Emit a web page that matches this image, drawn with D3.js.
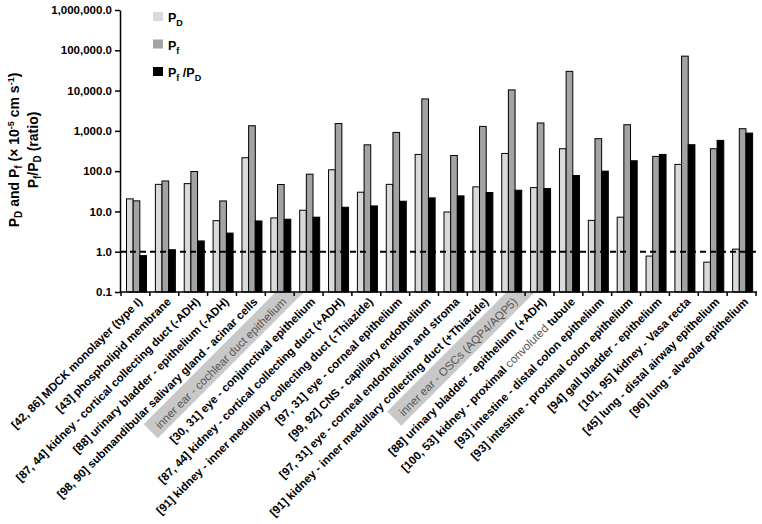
<!DOCTYPE html>
<html>
<head>
<meta charset="utf-8">
<script src="https://cdn.jsdelivr.net/npm/d3@7"></script>
<style>
	body { margin: 0; background: #fff; }
	svg { display: block; font-family: Arial, "Liberation Sans", sans-serif; }
</style>
</head>
<body>
<svg id="chart" width="762" height="524"></svg>
<script>
// categories (x axis)
var categories = [
	'[42, 86] MDCK monolayer (type I)',
	'[43] phospholipid membrane',
	'[87, 44] kidney - cortical collecting duct (-ADH)',
	'[88] urinary bladder - epithelium (-ADH)',
	'[98, 90] submandibular salivary gland - acinar cells',
	'inner ear - cochlear duct epithelium',
	'[30, 31] eye - conjunctival epithelium',
	'[87, 44] kidney - cortical collecting duct (+ADH)',
	'[91] kidney - inner medullary collecting duct (-Thiazide)',
	'[97, 31] eye - corneal epithelium',
	'[99, 92] CNS - capillary endothelium',
	'[97, 31] eye - corneal endothelium and stroma',
	'[91] kidney - inner medullary collecting duct (+Thiazide)',
	'inner ear - OSCs (AQP4/AQP5)',
	'[88] urinary bladder - epithelium (+ADH)',
	'[100, 53] kidney - proximal convoluted tubule',
	'[93] intestine - distal colon epithelium',
	'[93] intestine - proximal colon epithelium',
	'[94] gall bladder - epithelium',
	'[101, 95] kidney - Vasa recta',
	'[45] lung - distal airway epithelium',
	'[96] lung - alveolar epithelium'
];

// series values
var pD = [20.5, 47, 49, 5.9, 215, 6.9, 10.7, 108, 30, 47, 260, 9.7, 40.7, 275, 39, 360, 6.0, 7.2, 0.78, 147, 0.55, 1.16];
var pF = [18.3, 57, 98, 18.2, 1340, 46.6, 84, 1520, 450, 915, 6200, 245, 1290, 10400, 1570, 30000, 640, 1420, 232, 71600, 360, 1130];
var ratio = [0.8, 1.12, 1.85, 2.9, 5.8, 6.4, 7.2, 12.7, 13.7, 17.9, 21.7, 24.3, 29.5, 33.6, 37, 78, 100, 181, 260, 453, 580, 880];

// y tick values
var yTicks = [0.1, 1, 10, 100, 1000, 10000, 100000, 1000000];

(function(){
	var seriesKeys = ['pD', 'pF', 'ratio'];
	var seriesFill = { pD: '#dadada', pF: '#a3a3a3', ratio: '#000000' };

	var svg = d3.select('#chart');
	var plotLeft = 120, plotRight = 756, plotTop = 10, plotBottom = 292;

	var y = d3.scaleLog().domain([0.1, 1000000]).range([plotBottom, plotTop]);
	var x0 = d3.scaleBand().domain(categories).range([plotLeft + 1, plotRight]).padding(0);
	var x1 = d3.scaleBand().domain(seriesKeys).range([5.5, 25.5]).padding(0);

	// highlighted labels (grey box) and grey word
	var highlighted = ['inner ear - cochlear duct epithelium', 'inner ear - OSCs (AQP4/AQP5)'];
	var greyWord = 'convoluted';

	var labelX = function(c){ return x0(c) + x0.bandwidth()/2 + 5; };
	var labelY = plotBottom + 8;
	var rot = function(d){ return 'translate(' + labelX(d) + ',' + labelY + ') rotate(-45)'; };

	svg.append('clipPath').attr('id', 'belowAxis')
		.append('rect').attr('x', 0).attr('y', plotBottom + 1).attr('width', 762).attr('height', 300);
	var boxLayer = svg.append('g').attr('clip-path', 'url(#belowAxis)');

	// bars
	var rows = categories.map(function(c, i){
		return { cat: c, pD: pD[i], pF: pF[i], ratio: ratio[i] };
	});

	var groups = svg.append('g').selectAll('g')
		.data(rows)
		.enter()
		.append('g')
		.attr('transform', function(d){ return 'translate(' + x0(d.cat) + ',0)'; });

	groups.selectAll('rect')
		.data(function(d){ return seriesKeys.map(function(k){ return { key: k, value: d[k] }; }); })
		.enter()
		.append('rect')
		.attr('x', function(d){ return x1(d.key); })
		.attr('y', function(d){ return y(d.value); })
		.attr('width', x1.bandwidth())
		.attr('height', function(d){ return plotBottom - y(d.value); })
		.style('fill', function(d){ return seriesFill[d.key]; })
		.style('stroke', '#000')
		.style('stroke-width', 1);

	// dashed reference line at 1.0
	svg.append('line')
		.attr('x1', plotLeft).attr('x2', plotRight)
		.attr('y1', y(1)).attr('y2', y(1))
		.style('stroke', '#000')
		.style('stroke-width', 2)
		.style('stroke-dasharray', '6,4');

	// y axis
	var yAxis = svg.append('g')
		.attr('transform', 'translate(' + plotLeft + ',0)')
		.call(d3.axisLeft(y).tickValues(yTicks).tickFormat(d3.format(',.1f')).tickSize(5).tickSizeOuter(0));
	yAxis.select('.domain').style('stroke-width', 1.5);
	yAxis.selectAll('.tick line').style('stroke-width', 1.5);
	yAxis.selectAll('text')
		.attr('font-size', '11.5px')
		.attr('font-weight', 'bold')
		.attr('font-family', 'Arial, "Liberation Sans", sans-serif')
		.attr('fill', '#000');

	// x axis line and ticks at group boundaries
	svg.append('line')
		.attr('x1', plotLeft).attr('x2', plotRight + 1)
		.attr('y1', plotBottom).attr('y2', plotBottom)
		.style('stroke', '#000').style('stroke-width', 1.5);
	svg.append('g').selectAll('line')
		.data(categories.concat(['__end']))
		.enter()
		.append('line')
		.attr('x1', function(d){ return d === '__end' ? plotRight : x0(d); })
		.attr('x2', function(d){ return d === '__end' ? plotRight : x0(d); })
		.attr('y1', plotBottom).attr('y2', plotBottom + 4)
		.style('stroke', '#000').style('stroke-width', 1.5);

	// x labels
	var xLabels = svg.append('g').selectAll('text')
		.data(categories)
		.enter()
		.append('text')
		.attr('transform', rot)
		.attr('text-anchor', 'end')
		.attr('dy', '0.3em')
		.attr('font-size', '11.5px')
		.attr('font-weight', function(d){ return highlighted.indexOf(d) >= 0 ? 'normal' : 'bold'; })
		.attr('fill', function(d){ return highlighted.indexOf(d) >= 0 ? '#555' : '#000'; });

	xLabels.each(function(d){
		var t = d3.select(this);
		var k = d.indexOf(greyWord);
		if (k < 0){
			t.text(d);
			return;
		}
		t.append('tspan').text(d.slice(0, k));
		t.append('tspan').attr('font-weight', 'normal').attr('fill', '#555').text(greyWord);
		t.append('tspan').text(d.slice(k + greyWord.length));
	});

	// grey boxes behind highlighted labels, sized from the text
	xLabels.filter(function(d){ return highlighted.indexOf(d) >= 0; })
		.each(function(d){
			var len = this.getComputedTextLength();
			boxLayer.append('rect')
				.attr('transform', rot(d))
				.attr('x', -len - 8)
				.attr('y', -12)
				.attr('width', len + 40)
				.attr('height', 20)
				.style('fill', '#c8c8c8');
		});

	// y axis title
	var title = svg.append('text')
		.attr('transform', 'translate(19,150) rotate(-90)')
		.attr('text-anchor', 'middle')
		.attr('font-size', '14px')
		.attr('font-weight', 'bold');
	title.append('tspan').text('P');
	title.append('tspan').attr('font-size', '10px').attr('dy', 3).text('D');
	title.append('tspan').attr('dy', -3).text(' and P');
	title.append('tspan').attr('font-size', '10px').attr('dy', 3).text('f');
	title.append('tspan').attr('dy', -3).text(' (\u00d7 10');
	title.append('tspan').attr('font-size', '9px').attr('dy', -5).text('-5');
	title.append('tspan').attr('dy', 5).text(' cm s');
	title.append('tspan').attr('font-size', '9px').attr('dy', -5).text('-1');
	title.append('tspan').attr('dy', 5).text(')');

	var title2 = svg.append('text')
		.attr('transform', 'translate(38,150) rotate(-90)')
		.attr('text-anchor', 'middle')
		.attr('font-size', '14px')
		.attr('font-weight', 'bold');
	title2.append('tspan').text('P');
	title2.append('tspan').attr('font-size', '10px').attr('dy', 3).text('f');
	title2.append('tspan').attr('dy', -3).text('/P');
	title2.append('tspan').attr('font-size', '10px').attr('dy', 3).text('D');
	title2.append('tspan').attr('dy', -3).text(' (ratio)');

	// legend
	var legendItems = [
		{ key: 'pD', parts: [['P', 0], ['D', 1]] },
		{ key: 'pF', parts: [['P', 0], ['f', 1]] },
		{ key: 'ratio', parts: [['P', 0], ['f', 1], [' /P', 0], ['D', 1]] }
	];
	var legend = svg.append('g').selectAll('g')
		.data(legendItems)
		.enter()
		.append('g')
		.attr('transform', function(d, i){ return 'translate(153,' + (12 + i*27.5) + ')'; });
	legend.append('rect')
		.attr('width', 10).attr('height', 9)
		.style('fill', function(d){ return seriesFill[d.key]; });
	legend.append('text')
		.attr('x', 15).attr('y', 10)
		.attr('font-size', '12.5px')
		.attr('font-weight', 'bold')
		.each(function(d){
			var t = d3.select(this);
			var down = false;
			d.parts.forEach(function(p){
				var dy = 0;
				if (p[1] && !down){ dy = 4; down = true; }
				else if (!p[1] && down){ dy = -4; down = false; }
				t.append('tspan')
					.attr('dy', dy)
					.attr('font-size', p[1] ? '9px' : null)
					.text(p[0]);
			});
		});
})();
</script>
</body>
</html>
